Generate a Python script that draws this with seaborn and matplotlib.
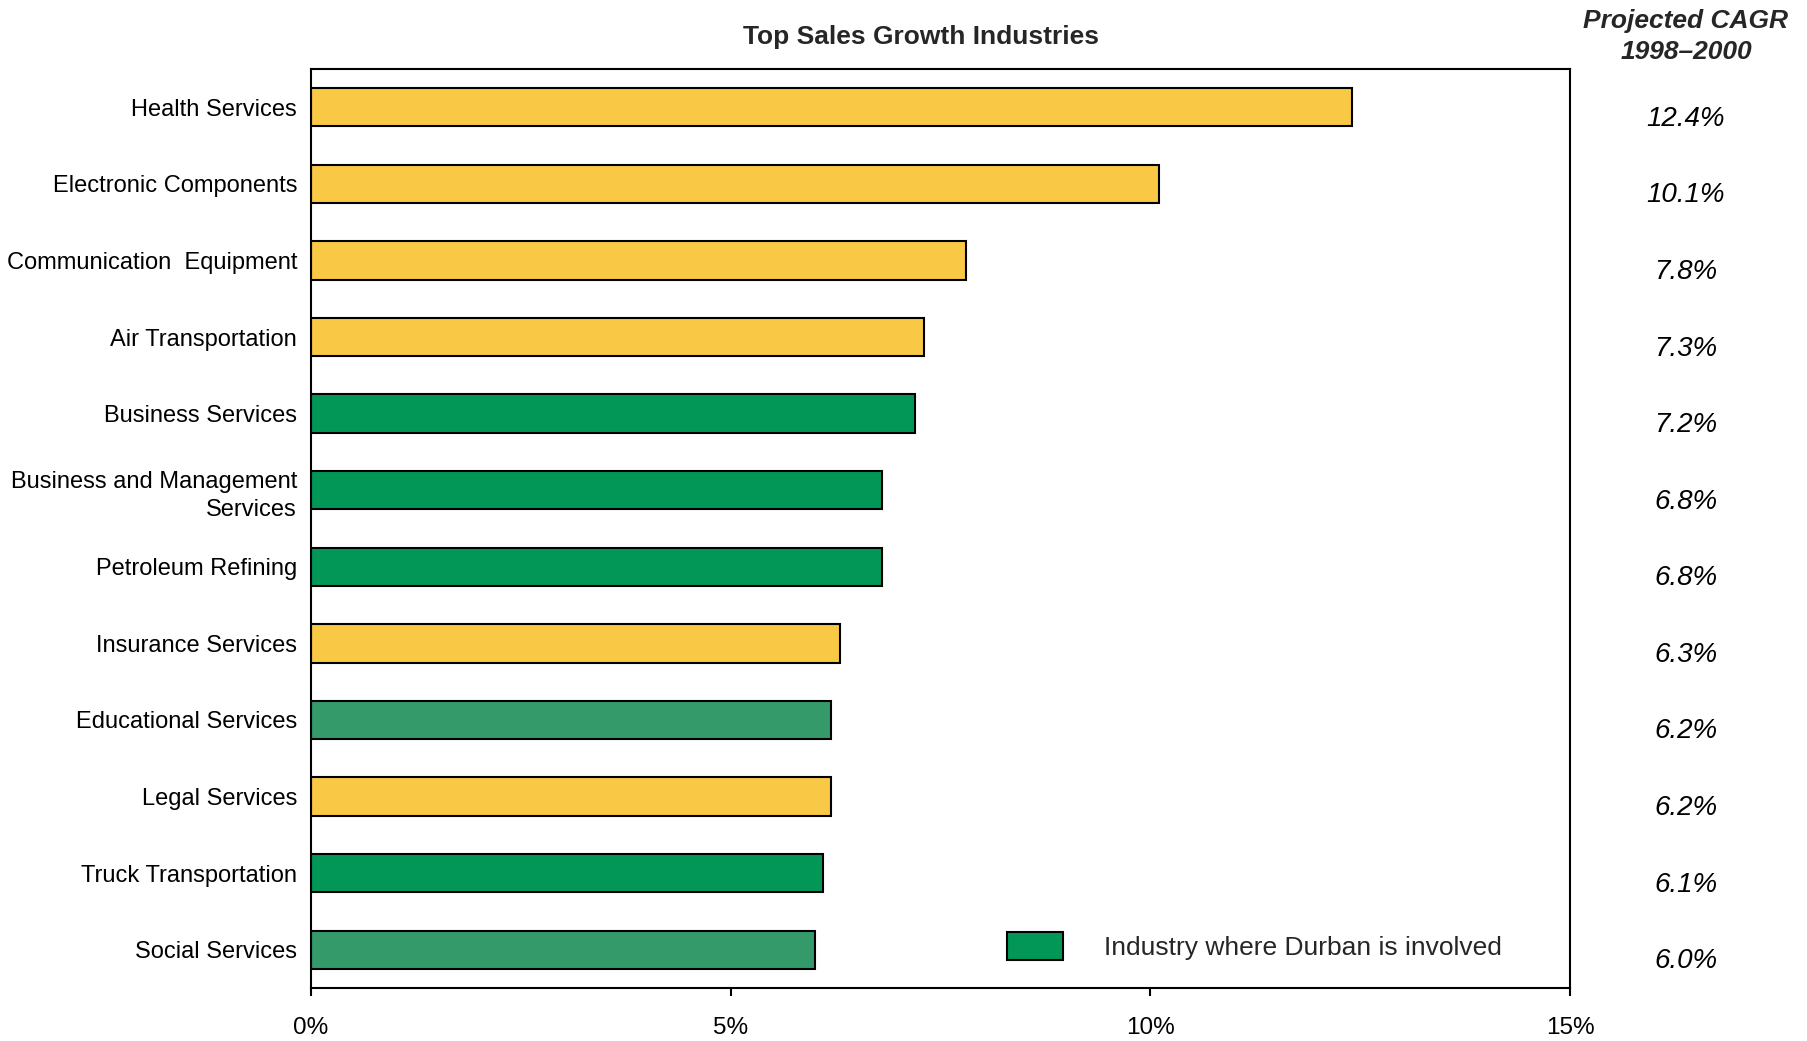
import matplotlib
matplotlib.use("Agg")
import matplotlib.pyplot as plt
from matplotlib.patches import Patch
from matplotlib.transforms import blended_transform_factory
import pandas as pd
import seaborn as sns

# Industries, top to bottom, with projected compound annual growth (%)
industries = [
    "Health Services",
    "Electronic Components",
    "Communication  Equipment",
    "Air Transportation",
    "Business Services",
    "Business and Management\nServices",
    "Petroleum Refining",
    "Insurance Services",
    "Educational Services",
    "Legal Services",
    "Truck Transportation",
    "Social Services",
]
cagr = [12.4, 10.1, 7.8, 7.3, 7.2, 6.8, 6.8, 6.3, 6.2, 6.2, 6.1, 6.0]
value_labels = ["12.4%", "10.1%", "7.8%", "7.3%", "7.2%", "6.8%",
                "6.8%", "6.3%", "6.2%", "6.2%", "6.1%", "6.0%"]
# "Y" = other industry, "G" = Durban involved, "L" = Durban involved (lighter shade)
groups = ["Y", "Y", "Y", "Y", "G", "G", "G", "Y", "L", "Y", "G", "L"]
x_ticks = [0, 5, 10, 15]
x_tick_labels = ["0%", "5%", "10%", "15%"]

YELLOW = "#F9C946"
GREEN = "#039757"
LIGHT_GREEN = "#349A6A"
group_colors = {"Y": YELLOW, "G": GREEN, "L": LIGHT_GREEN}

df = pd.DataFrame({"industry": industries, "cagr": cagr, "group": groups})
palette = {ind: group_colors[g] for ind, g in zip(industries, groups)}

sns.set_theme(style="white")
plt.rcParams["font.family"] = ["Liberation Sans", "DejaVu Sans"]

fig = plt.figure(figsize=(18.08, 10.41), dpi=100)
ax = fig.add_axes([311 / 1808, 1 - 988 / 1041, 1259 / 1808, 919 / 1041])

sns.barplot(data=df, x="cagr", y="industry", hue="industry", palette=palette,
            legend=False, width=0.5, edgecolor="black", linewidth=1.5,
            orient="h", saturation=1, ax=ax)

ax.set_xlim(0, 15)
ax.set_ylim(len(industries) - 0.5, -0.5)
ax.set_xticks(x_ticks)
ax.set_xticklabels(x_tick_labels)
ax.set_xlabel("")
ax.set_ylabel("")

for side in ["top", "bottom", "left", "right"]:
    ax.spines[side].set_visible(True)
    ax.spines[side].set_color("black")
    ax.spines[side].set_linewidth(1.5)

ax.tick_params(axis="x", direction="out", length=6, width=1.5, pad=15,
               labelsize=17.5, colors="black", bottom=True)
ax.tick_params(axis="y", length=0, pad=10, labelsize=17, colors="black")
for lbl in ax.get_yticklabels():
    lbl.set_linespacing(1.35)

ax.set_title("Top Sales Growth Industries", fontsize=19, fontweight="bold",
             x=(921 - 311) / 1259, pad=18)

# Right-hand column of projected CAGR values
trans = blended_transform_factory(ax.transAxes, ax.transData)
col_x = (1686 - 311) / 1259
for i, lab in enumerate(value_labels):
    ax.text(col_x, i + 0.15, lab, transform=trans, ha="center", va="center",
            fontsize=20, fontstyle="italic", color="black", clip_on=False)

fig.text(1686 / 1808, 1 - 21 / 1041, "Projected CAGR", ha="center", va="center",
         fontsize=19, fontweight="bold", fontstyle="italic")
fig.text(1686 / 1808, 1 - 52 / 1041, "1998\u20132000", ha="center", va="center",
         fontsize=19, fontweight="bold", fontstyle="italic")

handle = Patch(facecolor=GREEN, edgecolor="black", linewidth=1.5)
ax.legend([handle], ["Industry where Durban is involved"], loc="center left",
          bbox_to_anchor=(0.553, 0.0457), frameon=False, fontsize=19,
          handlelength=2.1, handleheight=1.3, handletextpad=1.55,
          borderpad=0, borderaxespad=0)

fig.savefig("out.png", dpi=100, facecolor="white")
